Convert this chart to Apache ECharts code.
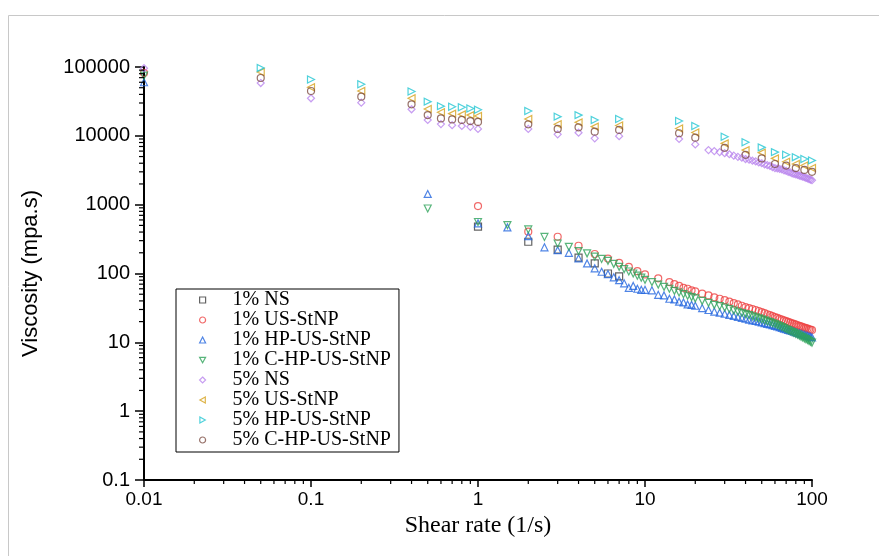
<!DOCTYPE html>
<html>
<head>
<meta charset="utf-8">
<script src="https://cdn.jsdelivr.net/npm/echarts@6/dist/echarts.min.js"></script>
<style>
  html, body { margin: 0; padding: 0; background: #fff; }
  #chart { width: 879px; height: 556px; }
</style>
</head>
<body>
<div id="chart"></div>
<script>
// series names (legend order)
var seriesNames = ['1% NS', '1% US-StNP', '1% HP-US-StNP', '1% C-HP-US-StNP',
                   '5% NS', '5% US-StNP', '5% HP-US-StNP', '5% C-HP-US-StNP'];

// 1% samples: shear rate (1/s) and viscosity (mPa.s), null = no point
var shearRate1 = [0.01, 0.5, 1, 1.5, 2, 2.5, 3, 3.5, 4, 4.5,
    5, 5.5, 6, 6.5, 7, 7.5, 8, 8.5, 9, 9.5,
    10, 11, 12, 13, 14, 15, 16, 17, 18, 19, 20,
    22, 24, 26, 28, 30, 32, 34, 36, 38, 40,
    42, 44, 46, 48, 50, 52, 54, 56, 58, 60,
    62, 64, 66, 68, 70, 72, 74, 76, 78, 80,
    82, 84, 86, 88, 90, 92, 94, 96, 98, 100];
var visc1NS = [null, null, 480, null, 289, null, 222, null, 170, null,
    140, null, 100, null, 91, null, null, null, null, null,
    null, null, null, null, null, null, null, null, null, null, null,
    null, null, null, null, null, null, null, null, null, null,
    null, null, null, null, null, null, null, null, null, null,
    null, null, null, null, null, null, null, null, null, null,
    null, null, null, null, null, null, null, null, null, null];
var visc1US = [82000, null, 955, null, 405, null, 342, null, 253, null,
    192, null, 165, null, 143, null, 125, null, 108, null,
    97, null, 85, null, 75, 70, 66, 62, 60, 57, 55,
    51, 48, 45, 43, 41, 39, 37, 35.5, 34, 32.5,
    31.5, 30.5, 29.5, 28.5, 27.5, 26.5, 25.6, 24.8, 24, 23.3,
    22.6, 22, 21.4, 20.8, 20.3, 19.8, 19.3, 18.9, 18.5, 18.1,
    17.7, 17.3, 17, 16.7, 16.4, 16.1, 15.8, 15.5, 15.3, 15.1];
var visc1HP = [60000, 1430, 535, 468, 349, 240, 218, 200, 166, 140,
    119, 106, 98, 88, 80, 72, 62, 66, 60, 58,
    58, 57, 49, 48, 43, 42, 39, 38, 35.5, 35, 34,
    31.5, 29.5, 28, 27, 26, 25, 24.2, 23.4, 22.7, 22,
    21.4, 20.9, 20.4, 19.9, 19.5, 19, 18.6, 18.2, 17.8, 17.4,
    17, 16.6, 16.2, 15.8, 15.5, 15.2, 14.9, 14.6, 14.3, 14,
    13.7, 13.5, 13.3, 13, 12.8, 12.6, 12.4, 12.2, 12, 11.8];
var visc1CHP = [75000, 880, 560, 505, 437, 340, 273, 244, 212, 196,
    176, 163, 153, 138, 125, 116, 107, 100, 93, 87,
    81, 75, 69, 64, 60, 56, 53, 50, 47.5, 45.5, 43.5,
    40, 37.5, 35, 33.5, 32, 30.5, 29, 27.8, 26.7, 25.7,
    24.8, 23.9, 23.1, 22.3, 21.6, 20.9, 20.2, 19.6, 19, 18.4,
    17.8, 17.2, 16.6, 16.1, 15.5, 15, 14.5, 14.1, 13.7, 13.3,
    12.9, 12.5, 12.1, 11.8, 11.4, 11.1, 10.8, 10.5, 10.2, 9.9];

// 5% samples
var shearRate5 = [0.05, 0.1, 0.2, 0.4, 0.5, 0.6, 0.7, 0.8, 0.9, 1,
    2, 3, 4, 5, 7, 16, 20, 30, 40, 50, 60, 70, 80, 90, 100];
var visc5US = [84600, 50700, 44800, 35100, 24600, 22000, 21000, 20500, 20000, 19400,
    17600, 14700, 15700, 13600, 14100, 12800, 11200, 7770, 6200, 5700, 4700, 4200, 3900, 3700, 3400];
var visc5HP = [97000, 66000, 56000, 44000, 31400, 27000, 26500, 26000, 25000, 24000,
    22900, 19000, 20000, 17000, 17600, 16400, 13900, 9700, 8050, 6800, 5800, 5300, 4900, 4600, 4400];
var visc5CHP = [69200, 44800, 37000, 28700, 20000, 17900, 17300, 17000, 16400, 15900,
    14700, 12600, 13300, 11500, 12200, 10900, 9400, 6700, 5300, 4700, 3900, 3700, 3400, 3200, 3000];

var shearRate5NS = [0.01, 0.05, 0.1, 0.2, 0.4, 0.5, 0.6, 0.7, 0.8, 0.9, 1, 2, 3, 4, 5, 7, 16, 20,
    24, 26, 28, 30, 32, 34, 36, 38, 40, 42,
    44, 46, 48, 50, 52, 54, 56, 58, 60, 62,
    64, 66, 68, 70, 72, 74, 76, 78, 80, 82,
    84, 86, 88, 90, 92, 94, 96, 98, 100];
var visc5NS = [96000, 58500, 35100, 30300, 24300, 17000, 14800, 14300, 13900, 13500, 12600, 12600, 10500, 11100, 9200, 9900, 9000, 7500,
    6200, 6000, 5800, 5600, 5400, 5150, 4950, 4800, 4600, 4500,
    4350, 4250, 4100, 4000, 3850, 3750, 3650, 3500, 3400, 3350,
    3300, 3250, 3150, 3100, 3000, 2950, 2850, 2800, 2750, 2700,
    2650, 2600, 2550, 2500, 2450, 2400, 2350, 2300, 2270];

// axis ranges
var xMin = 0.01, xMax = 100;
var yMin = 0.1, yMax = 100000;

var colors = ['#3c3c3c', '#ee4343', '#2466de', '#2ea35a', '#b985ee', '#d6a11c', '#22c6d2', '#7d4e44'];
var symbols = ['rect', 'circle', 'triangle', 'triangle', 'diamond', 'triangle', 'triangle', 'circle'];
var rotates = [0, 0, 0, 180, 0, 90, -90, 0];
// legend icons (rotated triangles drawn as paths)
var legendIcons = ['rect', 'circle', 'triangle', 'path://M0,0L10,0L5,9Z', 'diamond',
                   'path://M9,0L9,10L0,5Z', 'path://M0,0L9,5L0,10Z', 'circle'];

function pairs(xs, ys) {
    var out = [];
    for (var i = 0; i < xs.length; i++) {
        if (ys[i] != null) out.push([xs[i], ys[i]]);
    }
    return out;
}

var seriesData = [
    pairs(shearRate1, visc1NS),
    pairs(shearRate1, visc1US),
    pairs(shearRate1, visc1HP),
    pairs(shearRate1, visc1CHP),
    pairs(shearRate5NS, visc5NS),
    pairs(shearRate5, visc5US),
    pairs(shearRate5, visc5HP),
    pairs(shearRate5, visc5CHP)
];

// log minor ticks (2..9 in each decade)
function minorTicks(lo, hi) {
    var out = [];
    for (var d = lo; d < hi; d *= 10) {
        for (var m = 2; m <= 9; m++) out.push(+(m * d).toPrecision(3));
    }
    return out;
}
var xMinor = minorTicks(xMin, xMax);
var yMinor = minorTicks(yMin, yMax);

function fmt(v) { return String(+v.toPrecision(6)); }

var series = seriesData.map(function(d, i) {
    return {
        name: seriesNames[i],
        type: 'scatter',
        data: d,
        symbol: symbols[i],
        symbolSize: 7,
        symbolRotate: rotates[i],
        itemStyle: { color: 'rgba(255,255,255,0)', borderColor: colors[i], borderWidth: 1.2 },
        emphasis: { disabled: true }
    };
});

series.push({
    type: 'custom', silent: true, z: 5,
    data: xMinor.map(function(v) { return [v, yMin]; }),
    renderItem: function(params, api) {
        var p = api.coord([api.value(0), yMin]);
        return { type: 'line', shape: { x1: p[0], y1: p[1], x2: p[0], y2: p[1] + 4 },
                 style: { stroke: '#000', lineWidth: 1.2 } };
    }
});
series.push({
    type: 'custom', silent: true, z: 5,
    data: yMinor.map(function(v) { return [xMin, v]; }),
    renderItem: function(params, api) {
        var p = api.coord([xMin, api.value(1)]);
        return { type: 'line', shape: { x1: p[0] - 5, y1: p[1], x2: p[0], y2: p[1] },
                 style: { stroke: '#000', lineWidth: 1.2 } };
    }
});

var chart = echarts.init(document.getElementById('chart'), null, { renderer: 'canvas' });
chart.setOption({
    animation: false,
    backgroundColor: '#fff',
    grid: { left: 144, right: 67, top: 67, bottom: 76, containLabel: false },
    graphic: [{
        type: 'rect', silent: true,
        shape: { x: 8.5, y: 15.5, width: 1000, height: 1000 },
        style: { fill: 'none', stroke: '#c8c8c8', lineWidth: 1 }
    }],
    legend: {
        data: seriesNames.map(function(n, i) {
            return { name: n, icon: legendIcons[i],
                     itemStyle: { color: 'rgba(255,255,255,0)', borderColor: colors[i], borderWidth: 1.2 } };
        }),
        orient: 'vertical',
        left: 176, top: 289,
        padding: [1, 8, 2, 23],
        itemGap: 0,
        itemWidth: 6,
        itemHeight: 6,
        borderColor: '#000',
        borderWidth: 1,
        selectedMode: false,
        textStyle: { fontFamily: 'Liberation Serif', fontSize: 20, color: '#000', lineHeight: 20,
                     padding: [0, 0, 0, 22] }
    },
    xAxis: {
        type: 'log', logBase: 10, min: xMin, max: xMax,
        name: 'Shear rate (1/s)', nameLocation: 'middle', nameGap: 32,
        nameTextStyle: { fontFamily: 'Liberation Serif', fontSize: 24, color: '#000' },
        axisLine: { lineStyle: { color: '#000', width: 2 } },
        axisTick: { length: 7, lineStyle: { color: '#000', width: 1.5 } },
        axisLabel: { fontFamily: 'Liberation Sans', fontSize: 19, color: '#000', margin: 10, formatter: fmt },
        splitLine: { show: false }
    },
    yAxis: {
        type: 'log', logBase: 10, min: yMin, max: yMax,
        name: 'Viscosity (mpa.s)', nameLocation: 'middle', nameGap: 102,
        nameTextStyle: { fontFamily: 'Liberation Sans', fontSize: 22, color: '#000' },
        axisLine: { lineStyle: { color: '#000', width: 2 } },
        axisTick: { length: 9, lineStyle: { color: '#000', width: 1.5 } },
        axisLabel: { fontFamily: 'Liberation Sans', fontSize: 20, color: '#000', margin: 14, formatter: fmt },
        splitLine: { show: false }
    },
    series: series
});
</script>
</body>
</html>
